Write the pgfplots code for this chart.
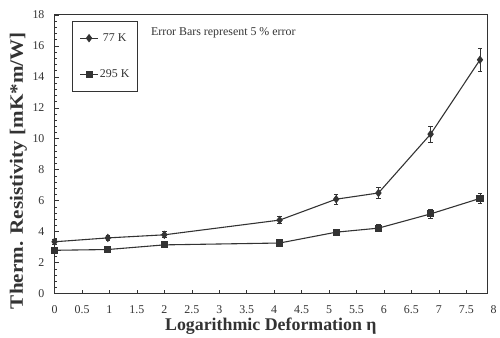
\documentclass[border=0pt]{standalone}
\usepackage{fontspec}
\setmainfont{Liberation Serif}
\newfontfamily\ylabfont[FakeStretch=1.12]{Liberation Serif}
\usepackage{pgfplots}
\pgfplotsset{compat=1.18}

\definecolor{ink}{gray}{0.2}

\begin{document}
\begin{tikzpicture}
\begin{axis}[
  scale only axis,
  width=436pt, height=281pt,
  xmin=0, xmax=7.88,
  ymin=0, ymax=18,
  xtick={0,0.5,...,7.5},
  ytick={0,2,...,18},
  minor y tick num=4,
  xtick pos=bottom, ytick pos=left,
  tick align=inside,
  major tick length=4pt, minor tick length=2.5pt,
  axis line style={ink, line width=0.8pt},
  every tick/.style={ink, line width=0.6pt},
  /pgf/number format/assume math mode=true,
  tick label style={font=\fontsize{12}{14}\selectfont, text=ink},
  xticklabel style={yshift=-8.5pt},
  yticklabel style={xshift=-6.7pt},
  xlabel={\textbf{Logarithmic Deformation η}},
  ylabel={\textbf{Therm. Resistivity [mK*m/W]}},
  every axis x label/.style={at={(rel axis cs:0.5,0)}, anchor=base,
    yshift=-37pt, font=\fontsize{18}{20}\selectfont, text=ink},
  every axis y label/.style={at={(rel axis cs:0,0.5)}, anchor=base,
    xshift=-32pt, yshift=-16.5pt, rotate=90,
    font=\ylabfont\fontsize{19}{21}\selectfont, text=ink},
  clip=false,
  legend style={at={(rel axis cs:0.041,0.979)}, anchor=north west, draw=ink,
    line width=0.8pt, font=\fontsize{12}{14}\selectfont, row sep=24pt,
    inner xsep=7pt, inner ysep=11pt, text=ink,
    nodes={inner sep=1.5pt}},
  legend image code/.code={
    \draw[#1, line width=1pt] (0pt,0pt) -- (18pt,0pt);
    \draw[#1, only marks] plot coordinates {(9pt,0pt)};
  },
  error bars/error bar style={ink, line width=0.8pt},
  error bars/error mark options={rotate=90, mark size=2.2pt, ink, line width=0.8pt},
]
% 77 K series with 5 % error bars
\addplot[ink, line width=1.1pt, mark=diamond*, mark size=3.4pt,
  mark options={fill=ink},
  error bars/.cd, y dir=both, y explicit]
  coordinates {
    (0,3.35) +- (0,0.17)
    (0.97,3.6) +- (0,0.18)
    (2,3.8) +- (0,0.19)
    (4.1,4.75) +- (0,0.24)
    (5.13,6.1) +- (0,0.31)
    (5.9,6.5) +- (0,0.33)
    (6.85,10.3) +- (0,0.52)
    (7.75,15.1) +- (0,0.76)
  };
\addlegendentry{77 K}
% 295 K series with 5 % error bars
\addplot[ink, line width=1.1pt, mark=square*, mark size=3pt,
  mark options={fill=ink},
  error bars/.cd, y dir=both, y explicit]
  coordinates {
    (0,2.8) +- (0,0.14)
    (0.97,2.85) +- (0,0.14)
    (2,3.15) +- (0,0.16)
    (4.1,3.27) +- (0,0.16)
    (5.13,3.97) +- (0,0.2)
    (5.9,4.23) +- (0,0.21)
    (6.85,5.15) +- (0,0.26)
    (7.75,6.15) +- (0,0.31)
  };
\addlegendentry{295 K}
\node[anchor=west, inner sep=0pt, font=\fontsize{12}{14}\selectfont, text=ink]
  at (axis cs:1.754,16.86) {Error Bars represent 5 \% error};
% last tick label sits just past the frame
\node[anchor=north, font=\fontsize{12}{14}\selectfont, text=ink, yshift=-8.5pt]
  at (axis cs:8,0) {8};
% fixed margins around the frame
\path (rel axis cs:0,0) ++(-55pt,-44pt);
\path (rel axis cs:1,1) ++(9pt,15pt);
\end{axis}
\end{tikzpicture}
\end{document}
